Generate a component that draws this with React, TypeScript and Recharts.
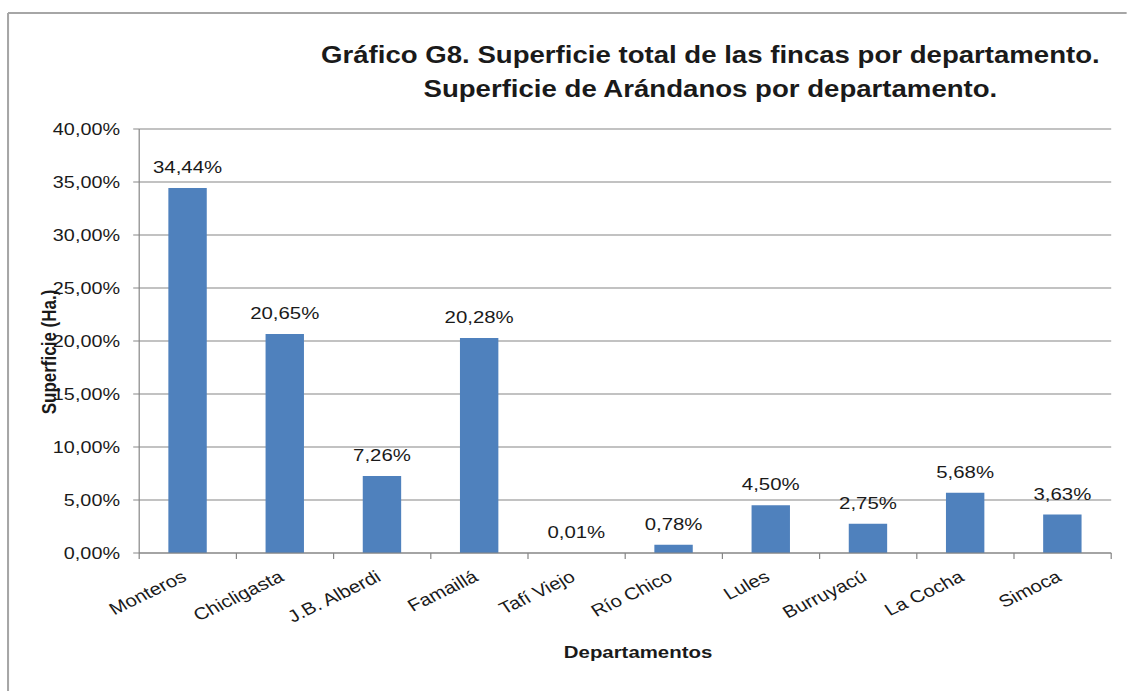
import React from "react";
import { BarChart, Bar, XAxis, YAxis, CartesianGrid, LabelList } from "recharts";

const CATEGORIES = [
  "Monteros",
  "Chicligasta",
  "J.B. Alberdi",
  "Famaillá",
  "Tafí Viejo",
  "Río Chico",
  "Lules",
  "Burruyacú",
  "La Cocha",
  "Simoca",
];
const VALUES = [34.44, 20.65, 7.26, 20.28, 0.01, 0.78, 4.5, 2.75, 5.68, 3.63];
const Y_TICKS = [0, 5, 10, 15, 20, 25, 30, 35, 40];
const TITLE_LINES = [
  "Gráfico G8. Superficie total de las fincas por departamento.",
  "Superficie de Arándanos por departamento.",
];
const X_TITLE = "Departamentos";
const Y_TITLE = "Superficie (Ha.)";

// the reference is stretched sideways, so the whole chart is drawn narrow and scaled
const STRETCH = 1.2;
const W = 939;
const H = 691;
const PLOT_LEFT = 116;
const PLOT_RIGHT = 926;
const FONT = "'Liberation Sans', Arial, sans-serif";
const GRID = "#868686";
const TEXT = "#1a1a1a";

const pct = (v: number) => `${v.toFixed(2).replace(".", ",")}%`;

const data = CATEGORIES.map((name, i) => ({ name, value: VALUES[i] }));

function XTick(props: any) {
  const { x, y, payload, index } = props;
  const band = (PLOT_RIGHT - PLOT_LEFT) / CATEGORIES.length;
  const ty = y + 27;
  return (
    <g>
      <line x1={x - band / 2} x2={x - band / 2} y1={y} y2={y + 6} stroke={GRID} />
      {index === CATEGORIES.length - 1 && (
        <line x1={x + band / 2} x2={x + band / 2} y1={y} y2={y + 6} stroke={GRID} />
      )}
      <text
        x={x}
        y={ty}
        textAnchor="end"
        transform={`rotate(-30, ${x}, ${ty})`}
        fontSize={17}
        fontFamily={FONT}
        fill={TEXT}
      >
        {payload.value}
      </text>
    </g>
  );
}

export default function App() {
  return (
    <div
      style={{
        position: "absolute",
        left: 0,
        top: 0,
        width: 1127,
        height: 691,
        overflow: "hidden",
        background: "#fff",
      }}
    >
      <div
        style={{
          position: "relative",
          width: W,
          height: H,
          transform: `scale(${STRETCH}, 1)`,
          transformOrigin: "0 0",
        }}
      >
        <BarChart
          width={W}
          height={H}
          data={data}
          margin={{ top: 129, right: W - PLOT_RIGHT, bottom: 48, left: 0 }}
          barCategoryGap="30%"
        >
          <CartesianGrid vertical={false} stroke={GRID} />
          <XAxis
            dataKey="name"
            interval={0}
            height={90}
            tickLine={false}
            tickSize={0}
            tickMargin={0}
            axisLine={{ stroke: GRID }}
            tick={<XTick />}
          />
          <YAxis
            domain={[0, 40]}
            ticks={Y_TICKS}
            tickFormatter={pct}
            width={PLOT_LEFT}
            tickSize={5}
            tickMargin={11}
            axisLine={{ stroke: GRID }}
            tickLine={{ stroke: GRID }}
            tick={{ fill: TEXT, fontSize: 16.5, fontFamily: FONT }}
          />
          <Bar dataKey="value" fill="#4F81BD" isAnimationActive={false}>
            <LabelList
              dataKey="value"
              position="top"
              offset={15}
              formatter={(v: any) => pct(Number(v))}
              fill={TEXT}
              fontSize={17}
              fontFamily={FONT}
            />
          </Bar>
        </BarChart>
        <svg
          width={W}
          height={H}
          style={{ position: "absolute", left: 0, top: 0, pointerEvents: "none" }}
        >
          <line x1={6.7} x2={6.7} y1={13} y2={H} stroke="#a6a6a6" strokeWidth={1.7} />
          <line x1={6.7} x2={W} y1={13} y2={13} stroke="#a6a6a6" strokeWidth={2} />
          <text
            x={592}
            y={63}
            textAnchor="middle"
            fontSize={23}
            fontWeight="bold"
            fontFamily={FONT}
            fill={TEXT}
          >
            {TITLE_LINES[0]}
          </text>
          <text
            x={592}
            y={97}
            textAnchor="middle"
            fontSize={23}
            fontWeight="bold"
            fontFamily={FONT}
            fill={TEXT}
          >
            {TITLE_LINES[1]}
          </text>
          <text
            x={531.7}
            y={658}
            textAnchor="middle"
            fontSize={17}
            fontWeight="bold"
            fontFamily={FONT}
            fill={TEXT}
          >
            {X_TITLE}
          </text>
          <text
            transform="translate(47, 352) rotate(-90)"
            textAnchor="middle"
            fontSize={17}
            fontWeight="bold"
            fontFamily={FONT}
            fill={TEXT}
          >
            {Y_TITLE}
          </text>
        </svg>
      </div>
    </div>
  );
}
